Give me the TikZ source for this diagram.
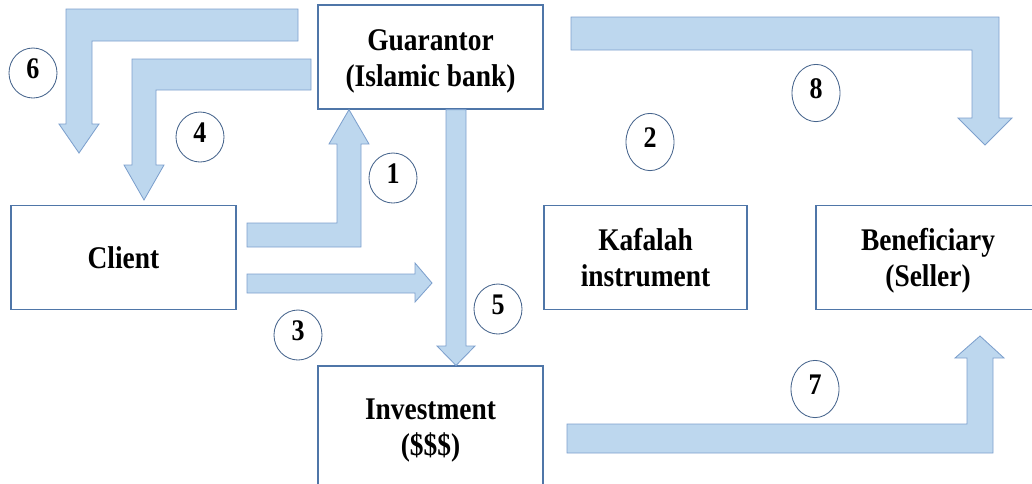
\documentclass[tikz,border=0pt]{standalone}
\usepackage{fontspec}
\setmainfont{Liberation Serif}
\usetikzlibrary{positioning}
\usetikzlibrary{shapes.geometric}

\definecolor{flowfill}{RGB}{189,215,238}
\definecolor{flowline}{RGB}{125,160,205}
\definecolor{boxline}{RGB}{79,118,168}
\definecolor{markline}{RGB}{70,100,140}

% taller lettering, as in the scanned figure
\newcommand{\tallrows}[1]{\scalebox{1}[1.15]{\begin{tabular}{@{}c@{}}#1\end{tabular}}}
% same, set a little low in its box
\newcommand{\partyrows}[1]{\raisebox{-0.1cm}[\height][\depth]{\tallrows{#1}}}

\tikzset{
	party/.style={draw=boxline, line width=0.9pt, fill=white, align=center,
		minimum height=2.6cm, font=\bfseries\fontsize{19.5}{22.5}\selectfont},
	flow/.style={fill=flowfill, draw=flowline, line width=0.6pt},
	stepmark/.style={ellipse, draw=markline, line width=0.6pt, inner sep=0pt,
		minimum width=1.2cm, minimum height=1.25cm,
		font=\bfseries\fontsize{18.5}{18.5}\selectfont},
	tallmark/.style={stepmark, minimum height=1.43cm}
}

\begin{document}
\begin{tikzpicture}[x=0.025cm, y=-0.025cm, on grid]
		\useasboundingbox (0,0) rectangle (1032,483);

		% Guarantor
		\node[party,
			minimum width=5.625cm] (guarantor) at (430.5,57) {\partyrows{Guarantor\\(Islamic bank)}};

		% Client
		\node[party,
			minimum width=5.625cm,
			below left = 5.01cm and 7.675cm of guarantor] (client) {\partyrows{Client}};

		% Investment
		\node[party,
			minimum width=5.625cm,
			minimum height=3cm,
			below = 9.225cm of guarantor] (investment) {\partyrows{Investment\\(\$\$\$)}};

		% Kafalah instrument
		\node[party,
			minimum width=5.075cm,
			right = 13.05cm of client] (kafalah) {\partyrows{Kafalah\\instrument}};

		% Beneficiary
		\node[party,
			minimum width=5.6cm,
			right = 7.06cm of kafalah] (beneficiary) {\partyrows{Beneficiary\\(Seller)}};

		% block arrows
		\draw[flow] (298,9) -- (66,9) -- (66,124) -- (59,124) -- (79,153) -- (99,124)
			-- (92,124) -- (92,41) -- (298,41) -- cycle;
		\draw[flow] (311,59) -- (132,59) -- (132,165) -- (124,165) -- (144,200) -- (164,165)
			-- (156,165) -- (156,90) -- (311,90) -- cycle;
		\draw[flow] (247,223) -- (337,223) -- (337,144) -- (329,144) -- (349,0 |- guarantor.south)
			-- (369,144) -- (361,144) -- (361,247) -- (247,247) -- cycle;
		\draw[flow] (247,274) -- (415,274) -- (415,263) -- (432,283) -- (415,302)
			-- (415,293) -- (247,293) -- cycle;
		\draw[flow] (446,0 |- guarantor.south) -- (446,346) -- (437,346) -- (456,0 |- investment.north)
			-- (475,346) -- (466,346) -- (466,0 |- guarantor.south) -- cycle;
		\draw[flow] (571,17) -- (999,17) -- (999,118) -- (1012,118) -- (985,145) -- (958,118)
			-- (972,118) -- (972,50) -- (571,50) -- cycle;
		\draw[flow] (567,453) -- (993,453) -- (993,358) -- (1004,358) -- (980,336) -- (955,358)
			-- (967,358) -- (967,424) -- (567,424) -- cycle;

		% step numbers
		\node[stepmark] (mark1) at (393,178) {\tallrows{1}};
		\node[tallmark] (mark2) at (650,142) {\tallrows{2}};
		\node[stepmark] (mark3) at (298,335) {\tallrows{3}};
		\node[stepmark] (mark4) at (200,137) {\tallrows{4}};
		\node[stepmark] (mark5) at (498,309) {\tallrows{5}};
		\node[stepmark] (mark6) at (33,73) {\tallrows{6}};
		\node[tallmark] (mark7) at (815,389) {\tallrows{7}};
		\node[tallmark] (mark8) at (816,93) {\tallrows{8}};
	\end{tikzpicture}
\end{document}
